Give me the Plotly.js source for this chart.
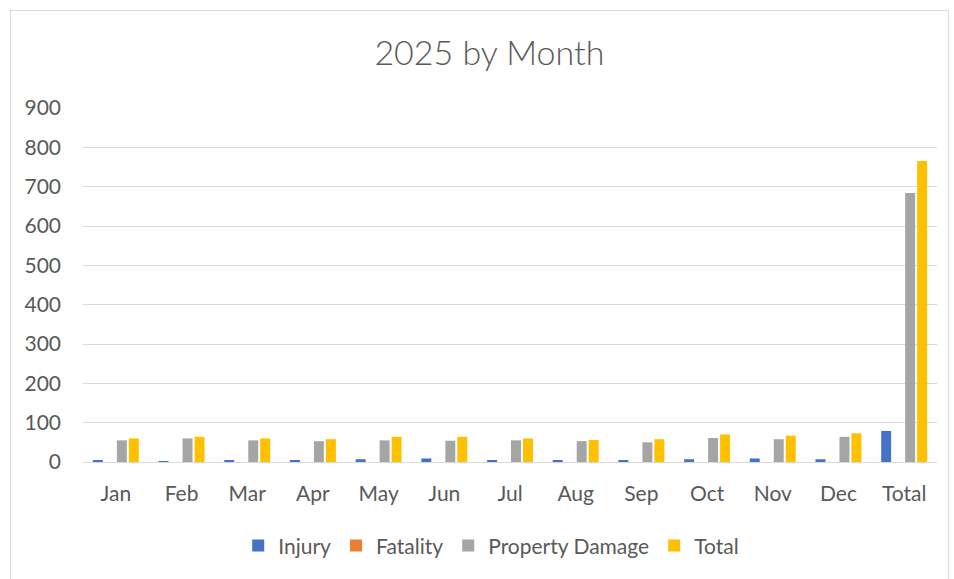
<!DOCTYPE html>
<html>
<head>
<meta charset="utf-8">
<script src="https://cdn.plot.ly/plotly-3.0.1.min.js"></script>
<style>
  html, body { margin: 0; padding: 0; background: #ffffff; }
  #wrap { position: relative; width: 954px; height: 579px; }
  #chart { width: 954px; height: 579px; }
  #frame { position: absolute; left: 10px; top: 10px; width: 939px; height: 575px;
           border: 1px solid #d9d9d9; pointer-events: none; box-sizing: border-box; }
</style>
</head>
<body>
<div id="wrap">
  <div id="chart"></div>
  <div id="frame"></div>
</div>
<script>
const categories = ["Jan","Feb","Mar","Apr","May","Jun","Jul","Aug","Sep","Oct","Nov","Dec","Total"];
const injury        = [4, 2, 4, 5, 7, 9, 4, 3, 5, 7, 9, 7, 79];
const fatality      = [0, 0, 0, 0, 0, 0, 0, 0, 0, 0, 0, 0, 0];
const propertyDamage= [55, 60, 55, 53, 55, 54, 55, 53, 50, 61, 58, 64, 684];
const total         = [60, 64, 60, 58, 64, 64, 60, 56, 58, 70, 67, 73, 765];
const yTicks = [0,100,200,300,400,500,600,700,800,900];

const fontFam = "Lato, 'Open Sans', sans-serif";
const txt = "#595959";

function bar(name, y, color) {
  return { type: "bar", name: name, x: categories, y: y,
           marker: { color: color, line: { width: 0 } }, hoverinfo: "x+y+name" };
}

const data = [
  bar("Injury", injury, "#4472c4"),
  bar("Fatality", fatality, "#ed7d31"),
  bar("Property Damage", propertyDamage, "#a5a5a5"),
  bar("Total", total, "#ffc000")
];

const layout = {
  width: 954, height: 579,
  paper_bgcolor: "#ffffff", plot_bgcolor: "#ffffff",
  margin: { l: 83, r: 17, t: 108, b: 117 },
  barmode: "group", bargap: 0.27, bargroupgap: 0.17,
  title: { text: "2025 by Month", x: 0.513, xanchor: "center", y: 0.909, yanchor: "middle",
           font: { family: fontFam, size: 34, color: txt, weight: 300 } },
  font: { family: fontFam, color: txt },
  xaxis: { type: "category", showgrid: false, zeroline: false,
           showline: true, linecolor: "#d9d9d9", linewidth: 1,
           ticks: "", tickfont: { family: fontFam, size: 21, color: txt },
           ticklabelstandoff: 13, fixedrange: true },
  yaxis: { range: [0, 900], tickvals: yTicks, ticktext: yTicks.map(String),
           showgrid: true, gridcolor: "#d9d9d9", gridwidth: 1, zeroline: false,
           showline: false, ticks: "", tickfont: { family: fontFam, size: 21, color: txt },
           ticklabelstandoff: 21, fixedrange: true },
  showlegend: true,
  legend: { orientation: "h", x: 0.478, xanchor: "center", y: -0.237, yanchor: "middle",
            font: { family: fontFam, size: 21, color: txt }, itemwidth: 30, tracegroupgap: 0 }
};

Plotly.newPlot("chart", data, layout, { displayModeBar: false, staticPlot: false });
</script>
</body>
</html>
